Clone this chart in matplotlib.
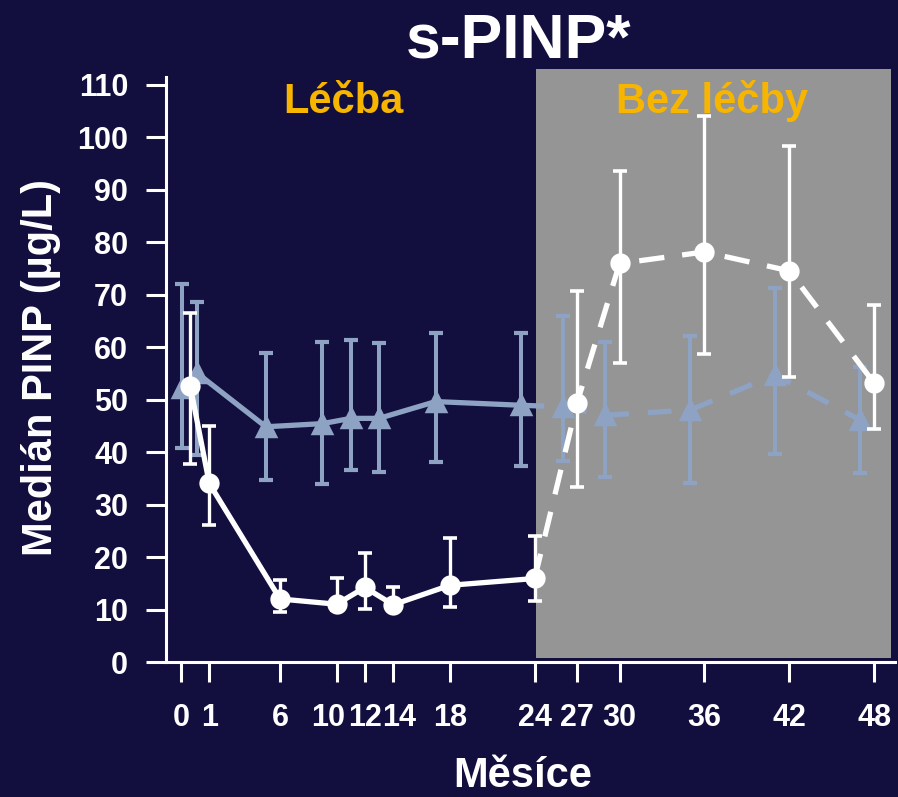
import matplotlib
matplotlib.use("Agg")
import matplotlib.pyplot as plt
import matplotlib.transforms as mtransforms
from matplotlib.patches import Rectangle

# ---- data ----
tick_labels = ['0', '1', '6', '10', '12', '14', '18', '24', '27', '30', '36', '42', '48']
tick_pos = [-1.0, 1, 6, 10, 12, 14, 18, 24, 27, 30, 36, 42, 48]

# treated group (white circles)
circ_x = [-0.35, 1, 6, 10, 12, 14, 18, 24, 27, 30, 36, 42, 48]
circ_y = [52.7, 34.1, 12.1, 11.1, 14.3, 11.0, 14.7, 16.0, 49.5, 76.0, 78.2, 74.6, 53.2]
circ_hi = [66.5, 45.0, 15.8, 16.0, 20.9, 14.3, 23.7, 24.0, 70.8, 93.6, 104.0, 98.4, 68.1]
circ_lo = [37.9, 26.1, 9.7, 10.0, 10.2, 10.0, 10.6, 11.8, 33.4, 57.0, 58.8, 54.3, 44.5]

# comparison group (blue triangles)
tri_x = [-0.9, 0.1, 5, 9, 11, 13, 17, 23, 26, 29, 35, 41, 47]
tri_y = [52.2, 55.2, 44.9, 45.5, 46.5, 46.5, 49.7, 49.0, 48.7, 47.1, 48.1, 54.8, 46.2]
tri_hi = [72.0, 68.7, 58.9, 61.1, 61.4, 60.9, 62.7, 62.8, 66.0, 61.1, 62.2, 71.4, 56.3]
tri_lo = [40.9, 39.5, 34.8, 34.0, 36.7, 36.2, 38.2, 37.4, 38.4, 35.4, 34.2, 39.8, 36.0]

split = 7  # index of month 24: solid before, dashed after

NAVY = '#120F3E'
BLUE = '#8EA2C3'
GRAY = '#959595'
GOLD = '#F7B500'
WHITE = '#FFFFFF'

plt.rcParams['font.family'] = ['Liberation Sans', 'DejaVu Sans']
plt.rcParams['font.weight'] = 'bold'

fig = plt.figure(figsize=(8.98, 7.97), dpi=100, facecolor=NAVY)
ax = fig.add_axes([0.18486, 0.16876, 0.81180, 0.74567], facecolor=NAVY)
ax.set_xlim(-2.06, 49.47)
ax.set_ylim(0, 113.2)

# off-treatment shaded region
ax.add_patch(Rectangle((24.09, 0.8), 49.2 - 24.09, 113.0 - 0.8,
                       facecolor=GRAY, edgecolor='none', zorder=0))

# triangles
t_err = [[y - l for y, l in zip(tri_y, tri_lo)], [h - y for y, h in zip(tri_y, tri_hi)]]
ax.errorbar(tri_x, tri_y, yerr=t_err, fmt='none', ecolor=BLUE, elinewidth=2.9,
            capsize=5.2, capthick=3.0, zorder=2)
ax.plot(tri_x[:split + 1], tri_y[:split + 1], color=BLUE, lw=3.8, zorder=3,
        solid_capstyle='butt')
ax.plot(tri_x[split:], tri_y[split:], color=BLUE, lw=3.8, zorder=3,
        linestyle=(0, (4.5, 3.6)), dash_capstyle='butt')
ax.plot(tri_x, tri_y, linestyle='none', marker='^', ms=13.5, color=BLUE,
        markeredgecolor=BLUE, markeredgewidth=2.5, zorder=4)

# circles
c_err = [[y - l for y, l in zip(circ_y, circ_lo)], [h - y for y, h in zip(circ_y, circ_hi)]]
ax.errorbar(circ_x, circ_y, yerr=c_err, fmt='none', ecolor=WHITE, elinewidth=2.4,
            capsize=4.7, capthick=2.6, zorder=5)
ax.plot(circ_x[:split + 1], circ_y[:split + 1], color=WHITE, lw=3.8, zorder=6)
ax.plot(circ_x[split:], circ_y[split:], color=WHITE, lw=3.8, zorder=6,
        linestyle=(0, (4.8, 3.4)), dash_capstyle='butt')
ax.plot(circ_x, circ_y, linestyle='none', marker='o', ms=14.6, color=WHITE,
        markeredgewidth=0, zorder=7)

# region labels
ax.text(10.45, 104.7, 'Léčba', color=GOLD, fontsize=30, fontweight='bold',
        ha='center', va='baseline', zorder=8)
ax.text(36.53, 104.7, 'Bez léčby', color=GOLD, fontsize=30, fontweight='bold',
        ha='center', va='baseline', zorder=8)

# axes styling
for s in ['top', 'right']:
    ax.spines[s].set_visible(False)
for s in ['left', 'bottom']:
    ax.spines[s].set_color(WHITE)
    ax.spines[s].set_linewidth(2.2)
ax.spines['left'].set_bounds(0, 111.6)

ax.set_yticks(range(0, 111, 10))
ax.set_xticks(tick_pos)
ax.set_xticklabels(tick_labels)
ax.tick_params(axis='both', colors=WHITE, width=2.2, length=14.2, labelsize=22)
ax.tick_params(axis='y', pad=13)
ax.tick_params(axis='x', pad=15)
for lbl in ax.get_xticklabels() + ax.get_yticklabels():
    lbl.set_fontweight('bold')

# nudge crowded x labels apart (pixels), as in the original
label_dx = {'10': -8, '14': 6}
for lbl in ax.get_xticklabels():
    dx = label_dx.get(lbl.get_text(), 0)
    if dx:
        lbl.set_transform(lbl.get_transform() +
                          mtransforms.ScaledTranslation(dx / 100, 0, fig.dpi_scale_trans))

fig.text(519 / 898, 1 - 58 / 797, 's-PINP*', color=WHITE, fontsize=45,
         fontweight='bold', ha='center', va='baseline')
fig.text(41 / 898, 1 - 367.5 / 797, 'Medián PINP (µg/L)', color=WHITE, fontsize=30,
         fontweight='bold', rotation=90, ha='center', va='center')
fig.text(523 / 898, 1 - 787 / 797, 'Měsíce', color=WHITE, fontsize=30,
         fontweight='bold', ha='center', va='baseline')

fig.savefig('out.png', dpi=100, facecolor=NAVY)
